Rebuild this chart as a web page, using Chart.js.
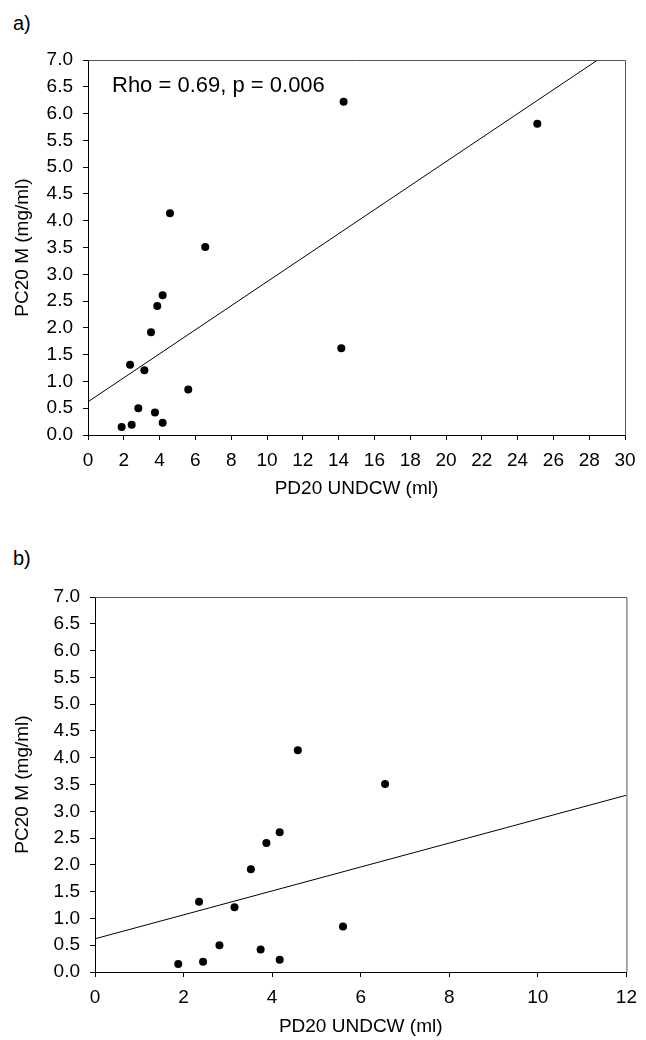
<!DOCTYPE html>
<html>
<head>
<meta charset="utf-8">
<script src="https://cdn.jsdelivr.net/npm/chart.js@4"></script>
<style>
  body { margin: 0; background: #fff; width: 646px; height: 1040px; position: relative; overflow: hidden; }
  canvas { position: absolute; left: 0; }
  .tag { position: absolute; left: 13px; font: 20px "Liberation Sans", Arial, sans-serif; line-height: 1; color: #000; }
</style>
</head>
<body>
<div class="tag" style="top:13px">a)</div>
<div class="tag" style="top:548px">b)</div>
<canvas id="chartA" width="646" height="520" style="top:0"></canvas>
<canvas id="chartB" width="646" height="520" style="top:520px"></canvas>
<script>
// PD20 UNDCW (ml) vs PC20 M (mg/ml)
const pd20 = [1.88, 2.44, 2.35, 2.81, 3.15, 3.52, 3.74, 3.87, 4.17, 4.17, 4.58, 5.60, 6.55, 14.15, 14.28, 25.10];
const pc20 = [0.15, 0.19, 1.31, 0.50, 1.21, 1.92, 0.42, 2.41, 2.61, 0.23, 4.14, 0.85, 3.51, 1.62, 6.22, 5.81];

// fitted lines (end points)
const fitAx = [0, 28.47];
const fitAy = [0.62, 7.0];
const fitBx = [0, 12];
const fitBy = [0.62, 3.30];

const yTicks = [0, 0.5, 1, 1.5, 2, 2.5, 3, 3.5, 4, 4.5, 5, 5.5, 6, 6.5, 7];
const xMaxA = 30, xStepA = 2;
const xMaxB = 12, xStepB = 2;

const FONT = '"Liberation Sans", Arial, sans-serif';

function pts(xs, ys) { return xs.map((x, i) => ({ x: x, y: ys[i] })); }

const framePlugin = {
  id: 'frame',
  afterDraw(chart) {
    const a = chart.chartArea, ctx = chart.ctx;
    ctx.save();
    ctx.strokeStyle = '#555';
    ctx.lineWidth = 1;
    ctx.beginPath();
    ctx.moveTo(a.left, a.top + 0.5);
    ctx.lineTo(a.right + 0.5, a.top + 0.5);
    ctx.lineTo(a.right + 0.5, a.bottom);
    ctx.stroke();
    const note = chart.options.plugins.frame.note;
    if (note) {
      ctx.fillStyle = '#000';
      ctx.font = '22px ' + FONT;
      ctx.textBaseline = 'alphabetic';
      ctx.fillText(note, 112, 92);
    }
    ctx.restore();
  }
};

function makeChart(id, xs, ys, fx, fy, xMax, xStep, lay, note) {
  return new Chart(document.getElementById(id), {
    type: 'scatter',
    data: {
      datasets: [{
        data: pts(xs, ys),
        backgroundColor: '#000',
        borderWidth: 0,
        pointRadius: 4,
        pointHoverRadius: 4
      }, {
        data: pts(fx, fy),
        showLine: true,
        borderColor: '#000',
        borderWidth: 1,
        pointRadius: 0,
        fill: false
      }]
    },
    options: {
      responsive: false,
      animation: false,
      layout: { padding: { left: 0, top: lay.top, right: lay.right, bottom: 0 } },
      plugins: {
        legend: { display: false },
        tooltip: { enabled: false },
        frame: { note: note }
      },
      scales: {
        x: {
          type: 'linear', min: 0, max: xMax,
          afterFit: s => { s.height = lay.xh; },
          border: { color: '#000', width: 1 },
          grid: { drawOnChartArea: false, drawTicks: true, tickLength: 5, color: '#000' },
          ticks: { stepSize: xStep, autoSkip: false, maxRotation: 0, color: '#000', padding: 9, font: { family: FONT, size: 19 } },
          title: { display: true, text: 'PD20 UNDCW (ml)', color: '#000', font: { family: FONT, size: 19 }, padding: { top: 0, bottom: lay.tb } }
        },
        y: {
          type: 'linear', min: 0, max: 7,
          afterFit: s => { s.width = lay.yw; },
          afterBuildTicks: s => { s.ticks = yTicks.map(v => ({ value: v })); },
          border: { color: '#000', width: 1 },
          grid: { drawOnChartArea: false, drawTicks: true, tickLength: 5, color: '#000' },
          ticks: { color: '#000', padding: 10, font: { family: FONT, size: 19 }, callback: v => v.toFixed(1) },
          title: { display: true, text: 'PC20 M (mg/ml)', color: '#000', font: { family: FONT, size: 19 }, padding: { top: 11, bottom: 0 } }
        }
      }
    },
    plugins: [framePlugin]
  });
}

makeChart('chartA', pd20, pc20, fitAx, fitAy, xMaxA, xStepA,
  { top: 60, right: 21, xh: 85, yw: 88, tb: 20 }, 'Rho = 0.69, p = 0.006');

const bx = [], by = [];
pd20.forEach((x, i) => { if (x <= xMaxB) { bx.push(x); by.push(pc20[i]); } });
makeChart('chartB', bx, by, fitBx, fitBy, xMaxB, xStepB,
  { top: 77, right: 14, xh: 68, yw: 95, tb: 2 }, null);
</script>
</body>
</html>
